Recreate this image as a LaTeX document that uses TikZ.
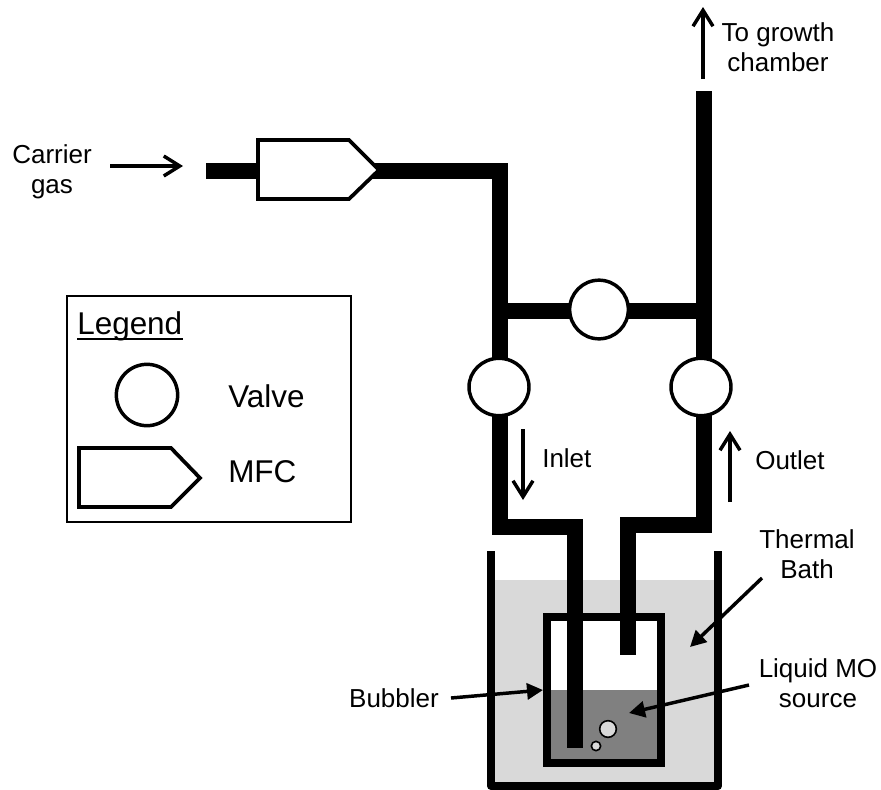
\documentclass[tikz,border=0pt]{standalone}
\usepackage{fontspec}
\setmainfont{Liberation Sans}
\usetikzlibrary{arrows.meta,shapes.geometric}
\tikzset{
  x=0.75pt,y=-0.75pt,
  pipe/.style={line width=12pt,line cap=butt,line join=miter},
  wall/.style={line width=6pt,line join=round},
  valve/.style={ellipse,draw=black,fill=white,line width=2.6pt,minimum width=44pt,minimum height=44pt,inner sep=0pt},
  mfc/.style={draw=black,fill=white,line width=2.8pt,line join=miter},
  flow/.style={line width=2.6pt,-{Straight Barb[length=12pt,width=15pt,line width=2.6pt]}},
  pointer/.style={line width=2.6pt,-{Triangle[length=12pt,width=12pt]}},
  lbl/.style={font=\fontsize{19.5pt}{22.5pt}\selectfont,align=center,inner sep=0pt},
  biglbl/.style={font=\fontsize{23.6pt}{28pt}\selectfont,inner sep=0pt,anchor=base west},
  bubble/.style={circle,draw=black,fill=black!15,line width=1.2pt,inner sep=0pt}
}
\begin{document}
\begin{tikzpicture}
\useasboundingbox (0,0) rectangle (881,789);
% bath
\fill[black!15] (491,580) rectangle (718,787);
\draw[wall] (491,551) -- (491,786) -- (718,786) -- (718,551);
% bubbler
\fill[white] (547,617) rectangle (661,690);
\fill[black!50] (547,690) rectangle (661,763);
\draw[line width=5.6pt,line join=miter] (547,617) rectangle (661,763);
% pipes
\coordinate (feedstart) at (206,171);
\coordinate (leftcorner) at (499.5,171);
\coordinate (tee1) at (499.5,310.5);
\coordinate (tee2) at (703.5,310.5);
\coordinate (topend) at (703.5,91);
\coordinate (lcorner) at (499.5,527);
\coordinate (rcorner) at (703.5,525);
\coordinate (inletend) at (575,748);
\coordinate (outletend) at (628,655);
\draw[pipe] (feedstart) -- (leftcorner) -- (lcorner) -- (575,527) -- (inletend);
\draw[pipe] (topend) -- (rcorner) -- (628,525) -- (outletend);
\draw[pipe] (tee1) -- (tee2);
% bubbles
\node[bubble,minimum size=12.5pt] (b1) at (608,729) {};
\node[bubble,minimum size=7pt] (b2) at (596,746) {};
% valves, MFC
\node[valve] (v1) at (599,309.5) {};
\node[valve,minimum width=45pt,minimum height=43pt] (v2) at (499,387) {};
\node[valve,minimum width=45pt,minimum height=43pt] (v3) at (701,387) {};
\draw[mfc] (258,140) -- (349,140) -- (379,170) -- (349,199) -- (258,199) -- cycle;
% legend
\draw[line width=1.2pt] (67,296) rectangle (351,522);
\node[biglbl] (lg) at (77,334) {Legend};
\draw[line width=2.2pt] ([yshift=-3.75pt]lg.base west) -- ([yshift=-3.75pt]lg.base east);
\node[valve,minimum width=46pt,minimum height=46pt] (lv) at (147,395) {};
\node[biglbl] (lvt) at (228,407) {Valve};
\draw[mfc] (79,448) -- (171,448) -- (200,478) -- (171,507) -- (79,507) -- cycle;
\node[biglbl] (lmt) at (228,482) {MFC};
% labels
\node[lbl] (carrier) at (52,171.7) {Carrier\\gas};
\coordinate (ca) at (110,166);\coordinate (cb) at (183,166);
\draw[flow] (ca) -- (cb);
\node[lbl] (growth) at (778,47.5) {To growth\\chamber};
\coordinate (ga) at (703,79);\coordinate (gb) at (703,7);
\draw[flow] (ga) -- (gb);
\node[lbl,anchor=base west] (inlet) at (542,467) {Inlet};
\coordinate (ia) at (523,429);\coordinate (ib) at (523,500);
\draw[flow] (ia) -- (ib);
\node[lbl,anchor=base west] (outlet) at (755,469) {Outlet};
\coordinate (oa) at (730,502);\coordinate (ob) at (730,431);
\draw[flow] (oa) -- (ob);
\node[lbl] (thermal) at (807,554) {Thermal\\Bath};
\draw[pointer] (762,578) -- (690,647);
\node[lbl] (liquid) at (818,683.5) {Liquid MO\\source};
\draw[pointer] (749,685) -- (629,713);
\node[lbl,anchor=base] (bubbler) at (394,707) {Bubbler};
\draw[pointer] (451,698) -- (543,690);
\end{tikzpicture}
\end{document}
